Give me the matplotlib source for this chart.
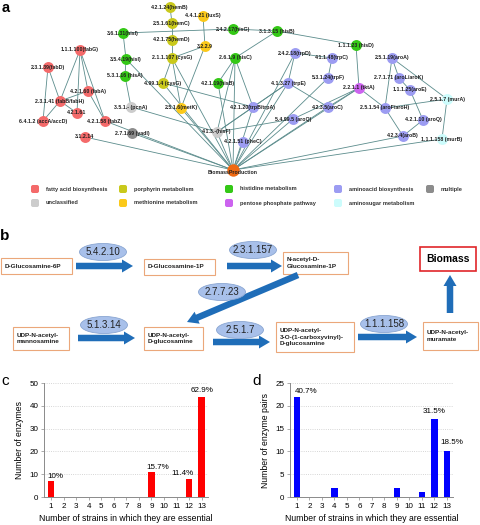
import matplotlib
matplotlib.use("Agg")
import matplotlib.pyplot as plt
from matplotlib.patches import Rectangle, Ellipse, FancyArrow, FancyBboxPatch

plt.rcParams["font.family"] = ["Liberation Sans", "DejaVu Sans"]

# ── a: network (positions in pixel units of the panel) ─────────────
node_ids = ["fabG", "fabD", "fabA", "fabB", "f61", "acc", "fabZ", "f14",
            "hisI1", "hisI2", "hisA", "pcnA", "yadI",
            "hemB", "hemC", "hemD", "cysG1", "cysG2", "luxS", "s229", "metK",
            "hisG", "hisB1", "hisC", "hisB2", "hisF",
            "trpD", "trpE", "trpB", "aroQ1", "pheC",
            "hisD", "trpC", "trpF", "tktA", "aroC",
            "aroA", "aroL", "aroE", "murA", "aroF", "aroQ2", "aroB", "murB",
            "bio"]
node_labels = ["1.1.1.100(fabG)", "2.3.1.39(fabD)", "4.2.1.60 (fabA)", "2.3.1.41 (fabB/fabH)",
               "4.2.1.61", "6.4.1.2 (accA/accD)", "4.2.1.58 (fabZ)", "3.1.2.14",
               "3.6.1.31(hisI)", "3.5.4.19(hisI)", "5.3.1.16 (hisA)", "3.5.1.- (pcnA)", "2.7.1.69 (yadI)",
               "4.2.1.24(hemB)", "2.5.1.61(hemC)", "4.2.1.75(hemD)", "2.1.1.107 (cysG)",
               "4.99.1.4 (cysG)", "4.4.1.21 (luxS)", "3.2.2.9", "2.5.1.6(metK)",
               "2.4.2.17(hisG)", "3.1.3.15 (hisB)", "2.6.1.9 (hisC)", "4.2.1.19(hisB)", "4.1.3.-(hisF)",
               "2.4.2.18(trpD)", "4.1.3.27 (trpE)", "4.2.1.20(trpB/trpA)", "5.4.99.5 (aroQ)",
               "4.2.1.51 (pheC)",
               "1.1.1.23 (hisD)", "4.1.1.48(trpC)", "5.3.1.24(trpF)", "2.2.1.1 (tktA)", "4.2.3.5(aroC)",
               "2.5.1.19(aroA)", "2.7.1.71 (aroL/aroK)", "1.1.1.25(aroE)", "2.5.1.7 (murA)",
               "2.5.1.54 (aroF/aroH)", "4.2.1.10 (aroQ)", "4.2.3.4(aroB)", "1.1.1.158 (murB)",
               "BiomassProduction"]
node_x = [80, 48, 88, 60, 77, 43, 105, 85,
          123, 126, 125, 131, 132,
          170, 172, 172, 172, 163, 203, 205, 181,
          233, 277, 235, 218, 217,
          295, 288, 253, 293, 243,
          356, 332, 328, 359, 328,
          392, 399, 410, 447, 385, 423, 403, 442,
          233]
node_y = [50, 67, 91, 101, 113, 121, 121, 137,
          33, 59, 76, 107, 133,
          7, 23, 40, 58, 83, 16, 46, 108,
          29, 31, 58, 83, 132,
          53, 83, 107, 119, 142,
          45, 58, 78, 88, 107,
          58, 78, 90, 99, 108, 120, 136, 139,
          170]
node_cat = ["fatty", "fatty", "fatty", "fatty", "fatty", "fatty", "fatty", "fatty",
            "his", "his", "his", "uncl", "mult",
            "por", "por", "por", "por", "por", "met", "met", "met",
            "his", "his", "his", "his", "uncl",
            "amino", "amino", "amino", "amino", "amino",
            "his", "amino", "amino", "pent", "amino",
            "amino", "amino", "amino", "asug", "amino", "amino", "amino", "asug",
            "bio"]

edges = [("fabG", "fabB"), ("fabG", "f61"), ("fabG", "fabA"), ("fabG", "fabZ"),
         ("fabD", "fabB"), ("fabD", "acc"), ("fabB", "acc"), ("fabB", "fabA"),
         ("fabA", "fabZ"), ("fabB", "f61"),
         ("hisI1", "hisI2"), ("hisI2", "hisA"), ("hisA", "pcnA"), ("hisI1", "hisG"),
         ("hisG", "hisB1"), ("hisB1", "hisC"), ("hisB1", "hisD"), ("hisC", "hisB2"),
         ("hisC", "trpB"), ("hisC", "hisF"), ("pcnA", "hisF"),
         ("hemB", "hemC"), ("hemC", "hemD"), ("hemD", "cysG1"), ("cysG1", "cysG2"),
         ("cysG1", "s229"), ("luxS", "s229"), ("s229", "metK"), ("cysG1", "metK"),
         ("trpD", "trpE"), ("trpE", "trpB"), ("trpD", "trpC"), ("trpC", "trpF"),
         ("hisF", "aroQ1"), ("hisF", "trpE"), ("hisF", "trpB"), ("trpE", "aroC"),
         ("tktA", "hisD"), ("tktA", "aroF"), ("tktA", "aroC"), ("tktA", "aroQ1"),
         ("aroA", "aroL"), ("aroA", "aroF"), ("aroL", "aroE"), ("aroE", "aroQ2"),
         ("aroQ2", "aroB"), ("aroF", "aroB"), ("murA", "murB"), ("aroA", "murA"),
         ("aroF", "murA"), ("cysG2", "trpB"),
         ("f14", "bio"), ("yadI", "bio"), ("cysG2", "bio"), ("cysG1", "bio"),
         ("metK", "bio"), ("hisB2", "bio"), ("hisC", "bio"), ("trpB", "bio"),
         ("hisF", "bio"), ("pheC", "bio"), ("aroQ1", "bio"), ("aroC", "bio"),
         ("tktA", "bio"), ("trpE", "bio"), ("aroB", "bio"), ("murB", "bio"),
         ("trpF", "bio"), ("hisI2", "bio"), ("fabZ", "bio"), ("trpD", "bio")]

cat_colors = {"fatty": "#f46a6a", "por": "#c9c91c", "his": "#34c816", "amino": "#9c9cf2",
              "mult": "#8c8c8c", "uncl": "#cccccc", "met": "#fbc91a", "pent": "#cc63ef",
              "asug": "#ccfcfc", "bio": "#f06a12"}

legend_labels = [["fatty acid biosynthesis", "porphyrin metabolism", "histidine metabolism",
                  "aminoacid biosynthesis", "multiple"],
                 ["unclassified", "methionine metabolism", "pentose phosphate pathway",
                  "aminosugar metabolism"]]
legend_cats = [["fatty", "por", "his", "amino", "mult"],
               ["uncl", "met", "pent", "asug"]]

# ── b: pathway ──────────────────────────────────────────────────────
box_texts = ["D-Glucosamine-6P", "D-Glucosamine-1P", "N-acetyl-D-\nGlucosamine-1P",
             "UDP-N-acetyl-\nmannosamine", "UDP-N-acetyl-\nD-glucosamine",
             "UDP-N-acetyl-\n3-O-(1-carboxyvinyl)-\nD-glucosamine", "UDP-N-acetyl-\nmuramate"]
box_rects = [(1, 258, 71, 16), (144, 259, 71, 16), (283, 252, 65, 22),
             (13, 327, 56, 23), (144, 327, 59, 23), (276, 322, 78, 30), (423, 322, 55, 28)]
enzymes = ["5.4.2.10", "2.3.1.157", "2.7.7.23", "5.1.3.14", "2.5.1.7", "1.1.1.158"]
enz_pos = [(103, 252), (253, 250), (222, 292), (104, 325), (240, 330), (384, 324)]
arrows = [(76, 266, 133, 266), (227, 266, 282, 266), (298, 275, 187, 322),
          (78, 338, 135, 338), (213, 342, 270, 342), (358, 337, 417, 337),
          (450, 313, 450, 275)]

# ── c, d: histograms ────────────────────────────────────────────────
strains = list(range(1, 14))
enzymes_count = [7, 0, 0, 0, 0, 0, 0, 0, 11, 0, 0, 8, 44]
pairs_count = [22, 0, 0, 2, 0, 0, 0, 0, 2, 0, 1, 17, 10]
c_notes = [("10%", 0.75, 7.6, "left"), ("15.7%", 9.5, 11.6, "center"),
           ("11.4%", 11.5, 8.6, "center"), ("62.9%", 13, 45.0, "center")]
d_notes = [("40.7%", 1.7, 22.3, "center"), ("31.5%", 12, 18.0, "center"),
           ("18.5%", 13.4, 11.2, "center")]

EDGE = "#5b8c8c"
ARROW = "#1f6db8"

fig = plt.figure(figsize=(4.8, 5.25), dpi=100, facecolor="white")
ax = fig.add_axes([0, 0, 1, 1])
ax.set_xlim(0, 480)
ax.set_ylim(525, 0)
ax.axis("off")

idx = {n: i for i, n in enumerate(node_ids)}
for a, b in edges:
    i, j = idx[a], idx[b]
    ax.plot([node_x[i], node_x[j]], [node_y[i], node_y[j]], color=EDGE, lw=0.6, zorder=1)
for i, n in enumerate(node_ids):
    s = 80 if n == "bio" else 62
    ax.scatter(node_x[i], node_y[i], s=s, color=cat_colors[node_cat[i]], zorder=2, linewidths=0)
    dy = 2 if n == "bio" else 0
    ax.text(node_x[i], node_y[i] + dy, node_labels[i], fontsize=3.8, fontweight="bold",
            ha="center", va="center", color="#202020", zorder=3)

leg_x = [35, 123, 229, 338, 430]
leg_y = [189, 203]
for r, row in enumerate(legend_labels):
    for c, lab in enumerate(row):
        ax.add_patch(FancyBboxPatch((leg_x[c] - 4, leg_y[r] - 4), 8, 8,
                                    boxstyle="round,pad=0,rounding_size=2",
                                    facecolor=cat_colors[legend_cats[r][c]], edgecolor="none"))
        ax.text(leg_x[c] + 11, leg_y[r], lab, fontsize=4.1, fontweight="bold",
                ha="left", va="center", color="#333333")

# pathway
for (x, y, w, h), t in zip(box_rects, box_texts):
    ax.add_patch(Rectangle((x, y), w, h, facecolor="white", edgecolor="#eba77a", lw=0.8))
    ax.text(x + 4, y + h / 2, t, fontsize=4.6, fontweight="bold", ha="left", va="center",
            linespacing=1.3, color="#222222")
ax.add_patch(Rectangle((420, 247), 56, 24, facecolor="white", edgecolor="#e0262a", lw=1.2))
ax.text(448, 259.5, "Biomass", fontsize=7.5, fontweight="bold", ha="center", va="center")

for x0, y0, x1, y1 in arrows:
    ax.add_patch(FancyArrow(x0, y0, x1 - x0, y1 - y0, width=6.5, head_width=13, head_length=11,
                            length_includes_head=True, color=ARROW, lw=0, zorder=2))
for (x, y), t in zip(enz_pos, enzymes):
    ax.add_patch(Ellipse((x, y), 47, 17, facecolor="#a8c0ea", edgecolor="#8aa6d2", lw=0.6, zorder=3))
    ax.text(x, y, t, fontsize=7, ha="center", va="center", color="#222222", zorder=4)

ax.text(2, 12, "a", fontsize=10.5, fontweight="bold")
ax.text(0, 240, "b", fontsize=11, fontweight="bold")
ax.text(1, 385, "c", fontsize=11)
ax.text(252, 385, "d", fontsize=11)


def hist(axh, vals, color, ymax, step, ylabel, notes):
    axh.bar(strains, vals, width=0.52, color=color, zorder=2)
    axh.set_xlim(0.44, 13.5)
    axh.set_ylim(0, ymax)
    axh.set_yticks(range(0, ymax + 1, step))
    axh.set_xticks(strains)
    axh.grid(axis="y", linestyle=":", color="#c8c8c8", lw=0.6, zorder=0)
    for sp in ["top", "right"]:
        axh.spines[sp].set_visible(False)
    for sp in ["left", "bottom"]:
        axh.spines[sp].set_color("#8a8a8a")
        axh.spines[sp].set_linewidth(0.7)
    axh.tick_params(labelsize=5.8, length=2, width=0.5, color="#8a8a8a", pad=2)
    axh.set_xlabel("Number of strains in which they are essential", fontsize=6.2, labelpad=3)
    axh.set_ylabel(ylabel, fontsize=6.2, labelpad=4)
    for t, x, y, ha in notes:
        axh.text(x, y, t, fontsize=5.8, ha=ha, va="bottom")


axc = fig.add_axes([44 / 480, 28 / 525, 164 / 480, 114 / 525])
hist(axc, enzymes_count, "#ff0000", 50, 10, "Number of enzymes", c_notes)
axd = fig.add_axes([290 / 480, 28 / 525, 163 / 480, 114 / 525])
hist(axd, pairs_count, "#0000ff", 25, 5, "Number of enzyme pairs", d_notes)

fig.savefig("out.png", dpi=100, facecolor="white")
